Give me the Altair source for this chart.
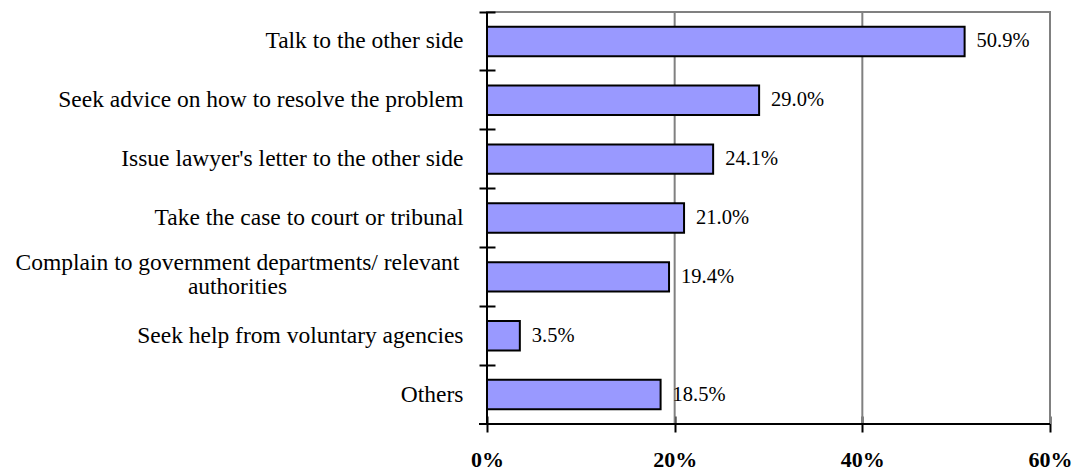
import altair as alt
import pandas as pd

categories = [
    "Talk to the other side",
    "Seek advice on how to resolve the problem",
    "Issue lawyer's letter to the other side",
    "Take the case to court or tribunal",
    "Complain to government departments/ relevant|authorities",
    "Seek help from voluntary agencies",
    "Others",
]
values_pct = [50.9, 29.0, 24.1, 21.0, 19.4, 3.5, 18.5]
x_ticks = [0, 0.2, 0.4, 0.6]
grid_vals = [0.2, 0.4, 0.6]

df = pd.DataFrame({"cat": categories, "val": [v / 100 for v in values_pct]})
grid_df = pd.DataFrame({"g": grid_vals})

FONT = "Liberation Serif"
CAT_FS = 23.5
VAL_FS = 20.5
AX_FS = 22
wrapped = categories[4]

x_scale = alt.Scale(domain=[0, 0.6], nice=False, zero=True)
x_axis = alt.Axis(
    values=x_ticks, format=".0%", title=None, grid=False, domain=False,
    offset=-8, tickSize=16, tickColor="black", tickWidth=2, labelFlush=False,
    labelFont=FONT, labelFontSize=AX_FS, labelFontWeight="bold", labelColor="black",
    labelPadding=17,
)
y_axis = alt.Axis(
    title=None, domain=False, offset=-8, tickSize=16, tickColor="black", tickWidth=2,
    bandPosition=-0.5, labelFont=FONT, labelFontSize=CAT_FS, labelColor="black",
    labelLimit=0, labelLineHeight=24,
    labelExpr="datum.value ? split(datum.value, '|') : ''",
    labelAlign={"condition": {"test": f"datum.value == '{wrapped}'", "value": "center"}, "value": "right"},
    labelPadding={"condition": {"test": f"datum.value == '{wrapped}'", "value": 242}, "value": 16},
    labelOffset={"condition": {"test": f"datum.value == '{wrapped}'", "value": -14}, "value": 0},
)

X = alt.X("val:Q", scale=x_scale, axis=x_axis)
Y = alt.Y("cat:N", sort=None, axis=y_axis,
          scale=alt.Scale(paddingInner=0.5, paddingOuter=0.25))

grid = alt.Chart(grid_df).mark_rule(color="#808080", strokeWidth=2).encode(
    x=alt.X("g:Q", scale=x_scale, axis=x_axis)
)

bars = alt.Chart(df).mark_bar(fill="#9999FF", stroke="black", strokeWidth=2).encode(x=X, y=Y)

labels = alt.Chart(df).mark_text(
    align="left", baseline="middle", dx=12, font=FONT, fontSize=VAL_FS, color="black"
).encode(x=X, y=Y, text=alt.Text("val:Q", format=".1%"))

left_domain = alt.Chart(df).mark_rule(color="black", strokeWidth=2).encode(
    x=alt.datum(0)
)
bottom_domain = alt.Chart(df).mark_rule(color="black", strokeWidth=2).encode(
    y=alt.value(412), x=alt.value(-8), x2=alt.value(563)
)

chart = alt.layer(grid, bars, labels, left_domain, bottom_domain).properties(
    width=563, height=412,
    autosize=alt.AutoSizeParams(type="none"),
    padding={"left": 479, "top": 4, "right": 23, "bottom": 47},
).configure_view(stroke="#808080", strokeWidth=2)

chart.save("out.html", embed_options={"renderer": "svg", "actions": False})
